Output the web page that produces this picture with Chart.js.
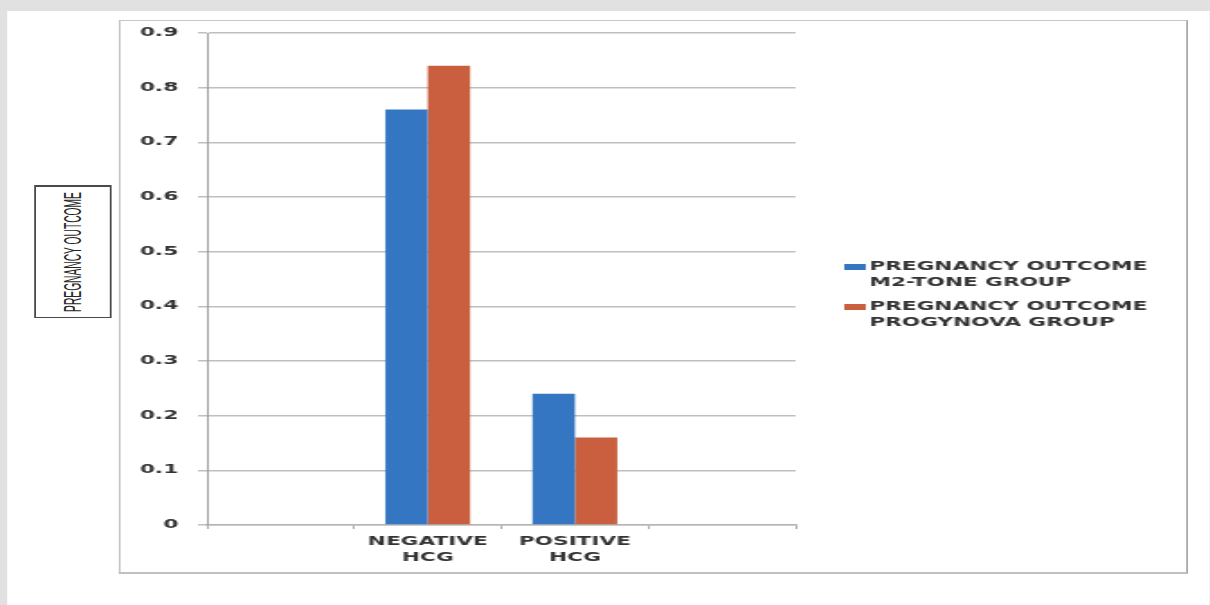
<!DOCTYPE html>
<html>
<head>
<meta charset="utf-8">
<title>Pregnancy outcome</title>
<script src="https://cdn.jsdelivr.net/npm/chart.js@4"></script>
<style>
  html, body { margin: 0; padding: 0; width: 1210px; height: 605px; overflow: hidden; background: #e1e1e1; }
  /* the whole sheet is laid out narrow and widened 1.8x, like the scanned figure */
  #stage { position: absolute; left: 0; top: 0; width: 672.2px; height: 605px;
           transform: scaleX(1.8); transform-origin: 0 0; }
  #paper { position: absolute; left: 3.9px; top: 11px; right: 0; bottom: 0; background: #fff; }
  #frame { position: absolute; left: 65.6px; top: 20px; width: 594.4px; height: 554px;
           box-sizing: border-box; border: 1px solid #c6c6c6; border-right-color: #a9a9a9; border-bottom: 2px solid #c0c0c0; }
  #ytitle { position: absolute; left: 18.9px; top: 185px; width: 43.3px; height: 133px; box-sizing: border-box;
            border: 1px solid #4a4a4a; border-top-width: 2px; display: flex; align-items: center; justify-content: center; background: #fff; }
  #ytitle span { display: block; transform: rotate(-90deg) scale(0.93, 1.2); white-space: nowrap;
                 font: 11px "Liberation Sans", Arial, sans-serif; color: #262626; }
  #chart { position: absolute; left: 65.6px; top: 20px; }
</style>
</head>
<body>
<div id="stage">
  <div id="paper"></div>
  <div id="frame"></div>
  <div id="ytitle"><span>PREGNANCY OUTCOME</span></div>
  <canvas id="chart" width="594" height="554"></canvas>
</div>
<script>
// categories: empty slots either side, as in the original sheet
const CATEGORIES = ["", ["NEGATIVE", "HCG"], ["POSITIVE", "HCG"], ""];
const M2_TONE = [null, 0.76, 0.24, null];
const PROGYNOVA = [null, 0.84, 0.16, null];
const SERIES_NAMES = [
  ["PREGNANCY OUTCOME", "M2-TONE GROUP"],
  ["PREGNANCY OUTCOME", "PROGYNOVA GROUP"],
];
const Y_MAX = 0.9;
const Y_STEP = 0.1;

const BLUE = "#3476c2";
const RED = "#c95f3e";

Chart.defaults.font.family = "'DejaVu Sans', sans-serif";
Chart.defaults.color = "#333";

// two-line legend entries to the right of the plot
const sideLegend = {
  id: "sideLegend",
  afterDraw(chart) {
    const { ctx, chartArea } = chart;
    const x = chartArea.right + 27;
    let y = chartArea.top + 234;
    ctx.save();
    ctx.font = "bold 12px 'DejaVu Sans', sans-serif";
    ctx.textBaseline = "middle";
    ctx.textAlign = "left";
    chart.data.datasets.forEach(ds => {
      ctx.fillStyle = ds.backgroundColor;
      ctx.fillRect(x, y - 3, 12, 6);
      ctx.fillStyle = "#333";
      ds.label.forEach((line, i) => ctx.fillText(line, x + 14, y + i * 16));
      y += 40;
    });
    ctx.restore();
  },
};

new Chart(document.getElementById("chart"), {
  type: "bar",
  data: {
    labels: CATEGORIES,
    datasets: [
      { label: SERIES_NAMES[0], data: M2_TONE, backgroundColor: BLUE,
        categoryPercentage: 0.576, barPercentage: 1.0 },
      { label: SERIES_NAMES[1], data: PROGYNOVA, backgroundColor: RED,
        categoryPercentage: 0.576, barPercentage: 1.0 },
    ],
  },
  options: {
    responsive: false,
    animation: false,
    devicePixelRatio: 1,
    layout: { padding: { left: 0, top: 13, right: 218, bottom: 0 } },
    plugins: { legend: { display: false }, tooltip: { enabled: false } },
    scales: {
      x: {
        grid: { drawOnChartArea: false, tickLength: 4, color: "#aaa" },
        border: { color: "#b5b5b5", width: 1.5 },
        ticks: { autoSkip: false, maxRotation: 0, padding: 5, color: "#333",
                 font: { size: 12, weight: "bold", lineHeight: 1.3 } },
        afterFit: s => { s.height = 49; },
      },
      y: {
        min: 0, max: Y_MAX,
        grid: { color: "#bfbfbf", lineWidth: 1.5, tickLength: 5 },
        border: { color: "#a0a0a0", width: 1 },
        ticks: { stepSize: Y_STEP, padding: 11, color: "#333",
                 font: { size: 12, weight: "bold" },
                 callback: v => (v === 0 ? "0" : v.toFixed(1)) },
        afterFit: s => { s.width = 49; s.paddingTop = 0; s.paddingBottom = 0; },
      },
    },
  },
  plugins: [sideLegend],
});
</script>
</body>
</html>
